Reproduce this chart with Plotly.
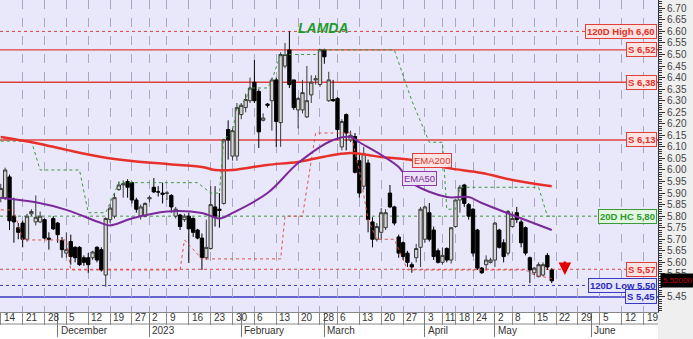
import pandas as pd
import plotly.graph_objects as go

# ---------------- data ----------------
holidays = ["2022-12-26", "2023-01-06", "2023-02-27", "2023-04-07",
            "2023-04-10", "2023-04-14", "2023-04-17", "2023-05-01"]
all_days = pd.bdate_range("2022-11-14", "2023-06-30")
dates = [d for d in all_days if d.strftime("%Y-%m-%d") not in holidays]

opens = [5.88, 5.88, 5.97, 5.80, 5.75, 5.77, 5.70, 5.81, 5.775, 5.775,
         5.785, 5.705, 5.79, 5.77, 5.695, 5.64, 5.69, 5.665, 5.665, 5.62,
         5.62, 5.62, 5.665, 5.655, 5.545, 5.785, 5.80, 5.915, 5.935, 5.95,
         5.945, 5.87, 5.80, 5.80, 5.875, 5.925, 5.905, 5.90, 5.90, 5.89,
         5.80, 5.805, 5.785, 5.80, 5.79, 5.74, 5.705, 5.62, 5.66, 5.84,
         5.83, 5.855, 6.175, 6.06, 6.06, 6.24, 6.27, 6.30, 6.38, 6.34,
         6.215, 6.285, 6.30, 6.39, 6.205, 6.45, 6.52, 6.39, 6.26, 6.26,
         6.23, 6.325, 6.39, 6.37, 6.52, 6.30, 6.305, 6.31, 6.10, 6.24,
         6.13, 6.145, 6.04, 5.93, 6.03, 5.775, 5.70, 5.73, 5.75, 5.90,
         5.84, 5.71, 5.685, 5.64, 5.59, 5.62, 5.665, 5.70, 5.815, 5.74,
         5.65, 5.60, 5.66, 5.61, 5.755, 5.87, 5.935, 5.85, 5.83, 5.74,
         5.575, 5.59, 5.60, 5.61, 5.74, 5.685, 5.64, 5.755, 5.815, 5.775,
         5.75, 5.62, 5.555, 5.538, 5.545, 5.63, 5.567]
highs = [5.94, 6.01, 5.98, 5.88, 5.77, 5.78, 5.81, 5.83, 5.89, 5.82,
         5.79, 5.73, 5.80, 5.775, 5.71, 5.73, 5.72, 5.67, 5.67, 5.63,
         5.64, 5.65, 5.67, 5.665, 5.795, 5.85, 5.90, 5.95, 5.955, 5.96,
         5.95, 5.88, 5.85, 5.86, 5.89, 5.965, 5.93, 5.945, 5.91, 5.895,
         5.84, 5.81, 5.81, 5.815, 5.795, 5.745, 5.725, 5.785, 5.93, 5.93,
         5.90, 6.135, 6.215, 6.18, 6.29, 6.29, 6.33, 6.40, 6.476, 6.35,
         6.245, 6.29, 6.40, 6.40, 6.51, 6.55, 6.60, 6.39, 6.315, 6.39,
         6.45, 6.41, 6.41, 6.525, 6.525, 6.425, 6.39, 6.315, 6.22, 6.245,
         6.17, 6.16, 6.07, 6.10, 6.045, 5.795, 5.77, 5.835, 5.83, 5.935,
         5.845, 5.72, 5.69, 5.65, 5.60, 5.68, 5.84, 5.845, 5.857, 5.755,
         5.66, 5.665, 5.665, 5.75, 5.87, 5.935, 5.94, 5.857, 5.835, 5.745,
         5.58, 5.63, 5.62, 5.775, 5.745, 5.70, 5.827, 5.82, 5.84, 5.785,
         5.755, 5.625, 5.58, 5.60, 5.60, 5.64, 5.575]
lows = [5.86, 5.87, 5.74, 5.685, 5.70, 5.665, 5.69, 5.80, 5.76, 5.77,
        5.70, 5.655, 5.74, 5.685, 5.62, 5.62, 5.59, 5.60, 5.585, 5.585,
        5.555, 5.61, 5.60, 5.56, 5.494, 5.77, 5.79, 5.91, 5.88, 5.88,
        5.855, 5.815, 5.785, 5.795, 5.86, 5.90, 5.885, 5.855, 5.87, 5.815,
        5.79, 5.74, 5.775, 5.597, 5.71, 5.70, 5.567, 5.61, 5.655, 5.755,
        5.75, 5.85, 6.045, 6.04, 6.04, 6.22, 6.25, 6.29, 6.29, 6.095,
        6.21, 6.27, 6.17, 6.10, 6.10, 6.44, 6.355, 6.26, 6.18, 6.245,
        6.225, 6.29, 6.37, 6.36, 6.46, 6.295, 6.295, 6.13, 6.085, 6.085,
        6.12, 5.985, 5.88, 5.915, 5.73, 5.665, 5.69, 5.70, 5.74, 5.835,
        5.76, 5.62, 5.61, 5.58, 5.555, 5.60, 5.58, 5.685, 5.69, 5.61,
        5.595, 5.59, 5.60, 5.595, 5.75, 5.815, 5.84, 5.785, 5.625, 5.567,
        5.55, 5.567, 5.595, 5.58, 5.66, 5.60, 5.63, 5.75, 5.77, 5.665,
        5.63, 5.51, 5.545, 5.535, 5.54, 5.567, 5.51]
closes = [5.92, 6.00, 5.78, 5.775, 5.73, 5.70, 5.80, 5.82, 5.795, 5.80,
          5.705, 5.70, 5.745, 5.72, 5.655, 5.655, 5.625, 5.62, 5.59, 5.60,
          5.59, 5.645, 5.61, 5.567, 5.79, 5.835, 5.88, 5.935, 5.94, 5.925,
          5.87, 5.83, 5.84, 5.855, 5.88, 5.905, 5.905, 5.895, 5.90, 5.84,
          5.83, 5.755, 5.80, 5.745, 5.73, 5.705, 5.62, 5.665, 5.85, 5.80,
          5.825, 6.13, 6.13, 6.17, 6.27, 6.28, 6.305, 6.355, 6.30, 6.165,
          6.225, 6.28, 6.39, 6.21, 6.50, 6.50, 6.37, 6.27, 6.31, 6.335,
          6.30, 6.38, 6.395, 6.52, 6.49, 6.39, 6.30, 6.175, 6.21, 6.16,
          6.15, 5.99, 5.90, 6.07, 5.785, 5.70, 5.755, 5.815, 5.815, 5.84,
          5.77, 5.64, 5.625, 5.60, 5.58, 5.66, 5.83, 5.84, 5.70, 5.625,
          5.60, 5.63, 5.61, 5.75, 5.87, 5.925, 5.855, 5.80, 5.64, 5.575,
          5.555, 5.61, 5.61, 5.77, 5.665, 5.625, 5.82, 5.79, 5.785, 5.685,
          5.64, 5.567, 5.575, 5.59, 5.59, 5.58, 5.52]

ema200_x = [0, 8, 15, 23, 30, 38, 46, 49, 53, 61, 68, 76, 80, 84, 87, 94, 102, 110, 117, 126]
ema200_y = [6.143, 6.117, 6.087, 6.056, 6.039, 6.026, 6.013, 6.00, 6.00, 6.022,
            6.035, 6.065, 6.074, 6.065, 6.056, 6.043, 6.009, 5.987, 5.957, 5.93]
ema50_x = [0, 8, 15, 23, 25, 30, 38, 46, 50, 53, 61, 68, 76, 80, 82, 87, 91, 94, 102, 107, 110, 117, 126]
ema50_y = [5.88, 5.86, 5.827, 5.77, 5.76, 5.79, 5.82, 5.814, 5.79, 5.814, 5.90,
           6.03, 6.13, 6.143, 6.12, 6.065, 6.013, 5.944, 5.883, 5.883, 5.857, 5.805, 5.74]

hc20_x = [0, 7, 9, 18, 20, 24, 27, 45, 48, 50, 51, 53, 54, 56, 57, 61, 62, 64, 72, 73,
          90, 94, 98, 101, 102, 104, 105, 123, 125, 126]
hc20_y = [6.125, 6.125, 6.00, 6.00, 5.815, 5.815, 5.945, 5.945, 5.90, 5.90, 6.13, 6.17,
          6.27, 6.305, 6.355, 6.355, 6.39, 6.50, 6.50, 6.52, 6.52, 6.30, 6.12, 6.12,
          5.83, 5.83, 5.925, 5.925, 5.80, 5.80]
lc20_x = [0, 3, 5, 15, 16, 41, 42, 46, 64, 65, 69, 72, 80, 82, 84, 86, 90, 93, 120, 122, 126]
lc20_y = [5.827, 5.827, 5.697, 5.697, 5.567, 5.567, 5.697, 5.615, 5.615, 5.80, 5.80,
          6.16, 6.16, 6.00, 5.785, 5.70, 5.70, 5.567, 5.567, 5.545, 5.53]

levels = [6.60, 6.52, 6.38, 6.13, 5.80, 5.57, 5.50, 5.45]
level_texts = ["120D High 6,60", "S 6,52", "S 6,38", "S 6,13", "20D HC 5,80",
               "S 5,57", "120D Low 5,50", "S 5,45"]
level_kinds = ["red_dot", "red", "red", "red", "green_dot", "red_dot", "blue_dot", "blue"]
last_price = 5.52
title_text = "LAMDA"
month_names = {12: "December", 1: "2023", 2: "February", 3: "March",
               4: "April", 5: "May", 6: "June"}
y_ticks = [round(5.45 + 0.05 * k, 2) for k in range(26)]
# the 5.50 label sits under the last-price box in the original
y_ticktext = ["" if abs(v - 5.50) < 1e-9 else "%.2f" % v for v in y_ticks]

# ---------------- axes helpers ----------------
X0, X1 = -0.18, 150.3
idx = list(range(len(opens)))

week_ticks, week_labels = [], []
prev = None
for i, d in enumerate(dates):
    wk = d.isocalendar()[1]
    if wk != prev and i <= X1:
        week_ticks.append(i)
        week_labels.append(str(d.day))
    prev = wk

month_ticks, month_labels = [], []
prevm = dates[0].month
for i, d in enumerate(dates):
    if d.month != prevm and i <= X1:
        month_ticks.append(i)
        month_labels.append(month_names[d.month])
    prevm = d.month

# ---------------- figure ----------------
fig = go.Figure()

fig.add_trace(go.Scatter(x=hc20_x, y=hc20_y, mode="lines",
                         line=dict(color="#3c9a3c", width=1, dash="dot"), hoverinfo="skip"))
fig.add_trace(go.Scatter(x=lc20_x, y=lc20_y, mode="lines",
                         line=dict(color="#e0504a", width=1, dash="dot"), hoverinfo="skip"))

fig.add_trace(go.Candlestick(
    x=idx, open=opens, high=highs, low=lows, close=closes,
    increasing=dict(line=dict(color="#3a3a3a", width=1), fillcolor="#d4d4d4"),
    decreasing=dict(line=dict(color="#000000", width=1), fillcolor="#000000"),
    whiskerwidth=0, hoverinfo="skip"))

fig.add_trace(go.Scatter(x=ema200_x, y=ema200_y, mode="lines", line_shape="spline",
                         line=dict(color="#e8302a", width=2.5), hoverinfo="skip"))
fig.add_trace(go.Scatter(x=ema50_x, y=ema50_y, mode="lines", line_shape="spline",
                         line=dict(color="#7a2a9a", width=2), hoverinfo="skip"))

styles = {
    "red": dict(color="#e0403c", dash="solid", width=1.4, fc="#e0302a", bg="#fde4e2"),
    "red_dot": dict(color="#e0403c", dash="dot", width=1, fc="#e0302a", bg="#fde4e2"),
    "green_dot": dict(color="#3c9a3c", dash="dot", width=1, fc="#2a9a2a", bg="#e2f6e2"),
    "blue_dot": dict(color="#3a3ac0", dash="dot", width=1, fc="#2a2ab8", bg="#e4e4fc"),
    "blue": dict(color="#3a3ac0", dash="solid", width=1.4, fc="#2a2ab8", bg="#e4e4fc"),
}

shapes = []
annotations = []
for val, txt, kind in zip(levels, level_texts, level_kinds):
    s = styles[kind]
    shapes.append(dict(type="line", xref="paper", x0=0, x1=1, yref="y", y0=val, y1=val,
                       line=dict(color=s["color"], width=s["width"], dash=s["dash"]),
                       layer="between"))
    annotations.append(dict(xref="paper", x=1, xanchor="right", xshift=-1, yref="y", y=val,
                            yanchor="middle", text="<b>" + txt + "</b>", showarrow=False,
                            font=dict(family="Arial, Liberation Sans", size=9.5, color=s["fc"]),
                            bgcolor=s["bg"], bordercolor=s["color"], borderwidth=1, borderpad=1))

# white area under the plot, separator line between rows
shapes.append(dict(type="rect", xref="paper", x0=0, x1=1, yref="paper", y0=-0.2, y1=0,
                   fillcolor="white", line=dict(width=0), layer="below"))
shapes.append(dict(type="line", xref="paper", x0=0, x1=1, yref="paper", y0=-0.0385, y1=-0.0385,
                   line=dict(color="#888888", width=1)))

for t, lab in zip(week_ticks, week_labels):
    annotations.append(dict(xref="x", x=t, xanchor="left", xshift=1, yref="paper", y=-0.0192,
                            yanchor="middle", text=lab, showarrow=False,
                            font=dict(family="Arial, Liberation Sans", size=10, color="#333333")))
for t, lab in zip(month_ticks, month_labels):
    annotations.append(dict(xref="x", x=t, xanchor="left", xshift=1, yref="paper", y=-0.058,
                            yanchor="middle", text=lab, showarrow=False,
                            font=dict(family="Arial, Liberation Sans", size=10, color="#333333")))

# title, EMA labels, last price, arrow
annotations.append(dict(xref="paper", x=0.492, yref="paper", y=0.942, text="<b><i>" + title_text + "</i></b>",
                        showarrow=False, font=dict(family="Arial, Liberation Sans", size=14, color="#1e9a2a")))
annotations.append(dict(xref="x", x=98.6, yref="y", y=6.043, text="EMA200", showarrow=False,
                        font=dict(family="Arial, Liberation Sans", size=9.5, color="#e0302a"),
                        bgcolor="#fde4e2", bordercolor="#e0403c", borderwidth=1, borderpad=1))
annotations.append(dict(xref="x", x=95.8, yref="y", y=5.965, text="EMA50", showarrow=False,
                        font=dict(family="Arial, Liberation Sans", size=9.5, color="#7a2a9a"),
                        bgcolor="#ece0f4", bordercolor="#8a3aaa", borderwidth=1, borderpad=1))
annotations.append(dict(xref="paper", x=1, xanchor="left", xshift=2, yref="y", y=last_price,
                        yanchor="middle", text="%.5f" % last_price, showarrow=False,
                        font=dict(family="Arial, Liberation Sans", size=8, color="#d00000"),
                        bgcolor="black", borderpad=2))
annotations.append(dict(xref="x", x=129, yref="y", y=5.545, text="", showarrow=True,
                        ax=0, ay=-15, arrowhead=2, arrowsize=1, arrowwidth=2.5, arrowcolor="#e00000"))

fig.update_layout(
    width=693, height=339,
    margin=dict(l=0, r=35, t=0, b=27),
    paper_bgcolor="#efefef",
    plot_bgcolor="#e8e8fa",
    showlegend=False,
    boxgap=0.2,
    boxgroupgap=0.05,
    shapes=shapes,
    annotations=annotations,
    xaxis=dict(range=[X0, X1], tickmode="array", tickvals=week_ticks, showticklabels=False,
               ticks="outside", ticklen=12, tickcolor="#888888", tickwidth=1,
               showgrid=True, gridcolor="#a8a8c0", griddash="dash", gridwidth=1,
               zeroline=False, rangeslider=dict(visible=False), showline=True,
               linecolor="#888888", fixedrange=True),
    xaxis2=dict(range=[X0, X1], overlaying="x", side="bottom", tickmode="array",
                tickvals=month_ticks, showticklabels=False, ticks="outside", ticklen=24,
                tickcolor="#777777", showgrid=False, zeroline=False, showline=False),
    yaxis=dict(range=[5.385, 6.736], side="right", tickmode="array", tickvals=y_ticks,
               ticktext=y_ticktext,
               ticks="outside", ticklen=6, tickcolor="#333333", showgrid=False, zeroline=False,
               showline=True, linecolor="#333333",
               tickfont=dict(family="Arial, Liberation Sans", size=10, color="#444444"),
               minor=dict(dtick=0.01, tick0=5.0, ticks="outside", ticklen=3, tickcolor="#333333",
                          showgrid=False)),
)
# dummy trace to activate xaxis2
fig.add_trace(go.Scatter(x=[X0], y=[5.385], xaxis="x2", mode="markers",
                         marker=dict(opacity=0), hoverinfo="skip"))

fig.write_html("out.html")
